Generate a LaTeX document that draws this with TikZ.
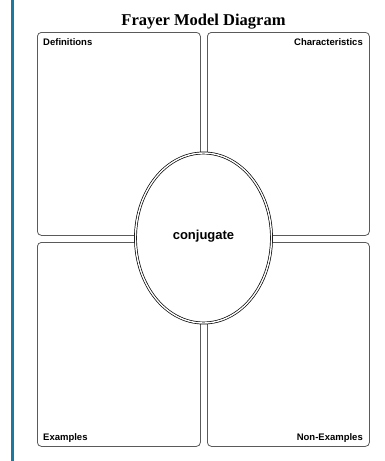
\documentclass[tikz,border=0pt]{standalone}
\usepackage{fontspec}
\setmainfont{Liberation Serif}
\setsansfont{Liberation Sans}
\usepackage{tikz}
\usetikzlibrary{shapes.geometric}
\definecolor{sidebar}{RGB}{27,122,158}
\definecolor{boxline}{RGB}{90,90,90}

\begin{document}
\begin{tikzpicture}[x=1pt,y=-1pt,
	quad/.style={draw=boxline, line width=0.8pt, rounded corners=4pt, minimum width=163pt, minimum height=203pt, inner sep=0pt, anchor=north west},
	lbl/.style={font=\sffamily\bfseries\fontsize{9.5}{11}\selectfont, inner sep=0pt},
	hub/.style={ellipse, draw=black, double=white, double distance=1.4pt, line width=0.7pt, fill=white, minimum width=136pt, minimum height=170pt, inner sep=0pt}]
	\useasboundingbox (0,0) rectangle (385,461);
	\fill[white] (0,0) rectangle (385,461);
	% side bar
	\draw[sidebar, line width=2.4pt] (12.5,0) -- (12.5,461);
	% title
	\node[font=\bfseries\fontsize{16.5}{19}\selectfont, anchor=base, inner sep=0pt] (title) at (203.5,25) {Frayer Model Diagram};
	% the four boxes
	\node[quad] (def) at (37,32) {};
	\node[quad, minimum width=162pt] (char) at (207,32) {};
	\node[quad, minimum height=204pt] (ex) at (37,242) {};
	\node[quad, minimum width=162pt, minimum height=204pt] (nonex) at (207,242) {};
	\node[lbl, anchor=base west] (deflbl) at (43,45) {Definitions};
	\node[lbl, anchor=base east] (charlbl) at (363,45) {Characteristics};
	\node[lbl, anchor=base west] (exlbl) at (43,440) {Examples};
	\node[lbl, anchor=base east] (nonexlbl) at (363,440) {Non-Examples};
	% centre
	\node[hub] (word) at (203.5,238) {};
	\node[font=\sffamily\bfseries\fontsize{13}{15}\selectfont, inner sep=0pt] (wordlbl) at (203.5,236) {conjugate};
\end{tikzpicture}
\end{document}
